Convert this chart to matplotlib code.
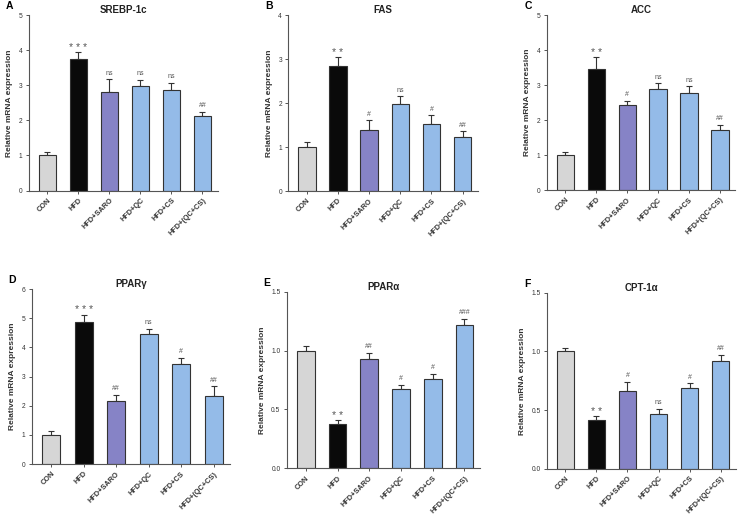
import numpy as np
import matplotlib.pyplot as plt

plt.rcParams['font.family'] = ['Liberation Sans', 'DejaVu Sans']

groups = ["CON", "HFD", "HFD+SARO", "HFD+QC", "HFD+CS", "HFD+(QC+CS)"]
bar_colors = ["#d6d6d6", "#0a0a0a", "#8683c6", "#94bbe8", "#94bbe8", "#94bbe8"]

# per-panel values
srebp_mean = [1.00, 3.75, 2.80, 2.98, 2.87, 2.12]
srebp_err = [0.10, 0.20, 0.37, 0.18, 0.20, 0.13]
srebp_sig = ["", "***", "ns", "ns", "ns", "##"]

fas_mean = [1.00, 2.85, 1.38, 1.98, 1.52, 1.22]
fas_err = [0.12, 0.20, 0.23, 0.17, 0.20, 0.14]
fas_sig = ["", "**", "#", "ns", "#", "##"]

acc_mean = [1.00, 3.47, 2.42, 2.88, 2.77, 1.72]
acc_err = [0.10, 0.32, 0.13, 0.17, 0.20, 0.14]
acc_sig = ["", "**", "#", "ns", "ns", "##"]

pparg_mean = [1.00, 4.88, 2.15, 4.47, 3.45, 2.35]
pparg_err = [0.12, 0.25, 0.22, 0.17, 0.20, 0.32]
pparg_sig = ["", "***", "##", "ns", "#", "##"]

ppara_mean = [1.00, 0.38, 0.93, 0.67, 0.76, 1.22]
ppara_err = [0.04, 0.03, 0.05, 0.04, 0.04, 0.05]
ppara_sig = ["", "**", "##", "#", "#", "###"]

cpt_mean = [1.00, 0.42, 0.66, 0.47, 0.69, 0.92]
cpt_err = [0.03, 0.03, 0.08, 0.04, 0.04, 0.05]
cpt_sig = ["", "**", "#", "ns", "#", "##"]

panels = [
    ("A", "SREBP-1c", srebp_mean, srebp_err, srebp_sig, 5, 1, "%d", [0.039, 0.635, 0.256, 0.336]),
    ("B", "FAS", fas_mean, fas_err, fas_sig, 4, 1, "%d", [0.390, 0.634, 0.257, 0.337]),
    ("C", "ACC", acc_mean, acc_err, acc_sig, 5, 1, "%d", [0.740, 0.636, 0.255, 0.335]),
    ("D", "PPARγ", pparg_mean, pparg_err, pparg_sig, 6, 1, "%d", [0.043, 0.111, 0.268, 0.335]),
    ("E", "PPARα", ppara_mean, ppara_err, ppara_sig, 1.5, 0.5, "%.1f", [0.388, 0.103, 0.262, 0.338]),
    ("F", "CPT-1α", cpt_mean, cpt_err, cpt_sig, 1.5, 0.5, "%.1f", [0.740, 0.102, 0.256, 0.337]),
]

fig = plt.figure(figsize=(7.39, 5.22), dpi=100)

for letter, title, mean, err, sig, ymax, step, fmt, pos in panels:
    ax = fig.add_axes(pos)
    x = np.arange(len(groups))
    ax.bar(x, mean, width=0.56, color=bar_colors, edgecolor="#333333", linewidth=0.8, zorder=2)
    ax.errorbar(x, mean, yerr=[np.zeros(len(err)), err], fmt="none", ecolor="#333333",
                elinewidth=0.8, capsize=2.2, capthick=0.8, zorder=1)
    for xi, m, e, s in zip(x, mean, err, sig):
        if not s:
            continue
        if s.startswith("*"):
            ax.text(xi, m + e - ymax * 0.005, " ".join(s), ha="center", va="bottom",
                    fontsize=7.5, color="#555555")
        else:
            ax.text(xi, m + e + ymax * 0.015, s, ha="center", va="bottom", fontsize=5,
                    color="#555555")
    ax.set_xlim(-0.6, 5.5)
    ax.set_ylim(0, ymax)
    ticks = np.arange(0, ymax + step / 2, step)
    ax.set_yticks(ticks)
    ax.set_yticklabels([fmt % t for t in ticks], fontsize=4.8, color="#333333")
    ax.set_xticks(x)
    ax.set_xticklabels(groups, rotation=45, ha="right", rotation_mode="anchor", fontsize=5.3,
                       fontweight="bold", color="#333333")
    ax.set_ylabel("Relative mRNA expression", fontsize=6, fontweight="bold", color="#333333")
    ax.set_title(title, fontsize=7, fontweight="bold", color="#222222", pad=1)
    ax.spines["top"].set_visible(False)
    ax.spines["right"].set_visible(False)
    ax.spines["left"].set_color("#555555")
    ax.spines["bottom"].set_color("#555555")
    ax.tick_params(length=2.5, width=0.7, color="#555555", pad=2)
    ax.text(-0.12, 1.05, letter, transform=ax.transAxes, fontsize=7.5, fontweight="bold",
            ha="left", va="center")

fig.savefig("out.png", dpi=100)
